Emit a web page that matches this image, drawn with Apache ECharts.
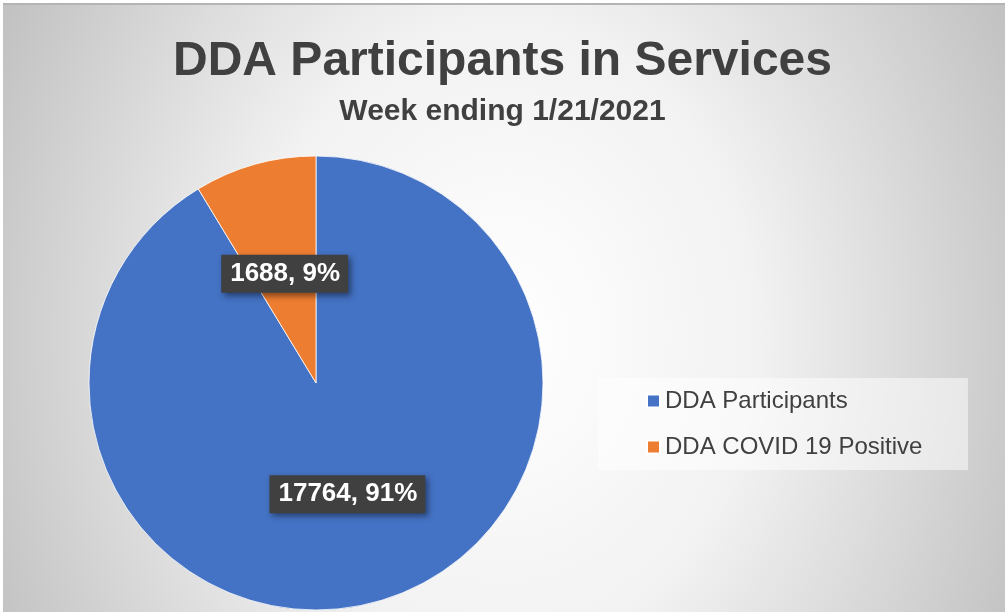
<!DOCTYPE html>
<html>
<head>
<meta charset="utf-8">
<script src="https://cdn.jsdelivr.net/npm/echarts@6/dist/echarts.min.js"></script>
<style>
  html, body { margin: 0; padding: 0; background: #ffffff; }
  #bg {
    position: absolute; left: 3px; top: 3px; width: 1002px; height: 609px;
    box-sizing: border-box; border-top: 2px solid #b4b4b4;
    background: radial-gradient(ellipse 560px 700px at 502px 330px, #ffffff 0%, #f2f2f2 45%, #c2c2c2 100%);
  }
  #chart { position: absolute; left: 0; top: 0; width: 1005px; height: 612px; }
</style>
</head>
<body>
<div id="bg"></div>
<div id="chart"></div>
<script>
const titleText = 'DDA Participants in Services';
const subtitleText = 'Week ending 1/21/2021';
const categories = ['DDA Participants', 'DDA COVID 19 Positive'];
const values = [17764, 1688];
const colors = ['#4472C4', '#ED7D31'];
const labelOffsets = [[0, -1], [0, 3]];

const chart = echarts.init(document.getElementById('chart'), null, { renderer: 'canvas' });
const fam = '"Liberation Sans", Arial, sans-serif';

chart.setOption({
  backgroundColor: 'transparent',
  title: [
    {
      text: titleText, left: 'center', top: 33,
      textStyle: { fontFamily: fam, fontWeight: 'bold', fontSize: 48, color: '#404040' }
    },
    {
      text: subtitleText, left: 'center', top: 92,
      textStyle: { fontFamily: fam, fontWeight: 'bold', fontSize: 30, color: '#404040' }
    }
  ],
  graphic: [
    { type: 'rect', left: 598, top: 378, shape: { width: 370, height: 92 }, style: { fill: 'rgba(255,255,255,0.5)' }, z: 0 }
  ],
  legend: {
    orient: 'vertical', left: 646, top: 389,
    padding: 0, itemWidth: 13, itemHeight: 13, itemGap: 22,
    icon: 'rect',
    data: categories,
    textStyle: { fontFamily: fam, fontSize: 24, color: '#404040', lineHeight: 24 },
    z: 5
  },
  series: [{
    type: 'pie',
    center: [316, 383],
    radius: 227,
    startAngle: 90,
    clockwise: true,
    avoidLabelOverlap: false,
    itemStyle: { borderColor: '#ffffff', borderWidth: 0.8 },
    emphasis: { disabled: true },
    label: {
      show: true,
      position: 'inside',
      formatter: function (p) {
        return p.value + ', ' + Math.round(p.percent) + '%';
      },
      fontFamily: fam, fontWeight: 'bold', fontSize: 26, lineHeight: 26,
      color: '#ffffff', padding: [6, 8, 6, 9],
      backgroundColor: '#404040',
      shadowBlur: 6, shadowOffsetX: 3, shadowOffsetY: 3, shadowColor: 'rgba(0,0,0,0.45)'
    },
    labelLine: { show: false },
    data: categories.map((name, i) => ({
      name: name, value: values[i],
      itemStyle: { color: colors[i] },
      label: { offset: labelOffsets[i] }
    }))
  }]
});
</script>
</body>
</html>
